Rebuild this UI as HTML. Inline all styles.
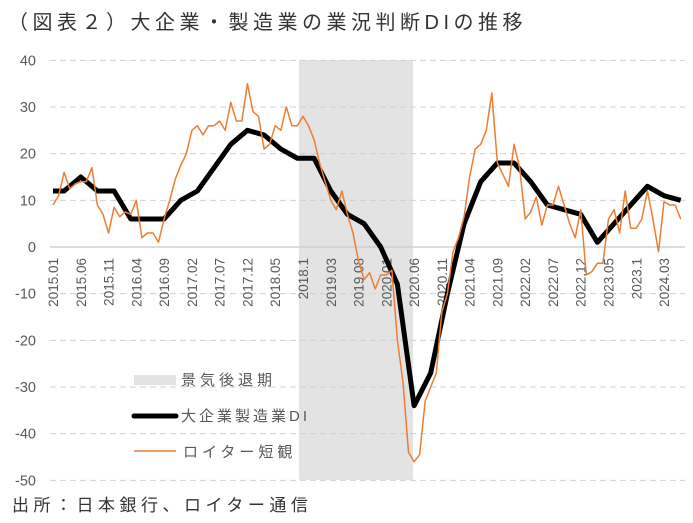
<!DOCTYPE html>
<html><head><meta charset="utf-8">
<style>
html,body{margin:0;padding:0;background:#fff;}
body{width:693px;height:518px;overflow:hidden;font-family:"Liberation Sans","Noto Sans CJK JP",sans-serif;}
</style></head>
<body>
<svg id="c" width="693" height="518" xmlns="http://www.w3.org/2000/svg" font-family="Liberation Sans, Noto Sans CJK JP, sans-serif">
<text x="8" y="29" font-size="20" fill="#333" letter-spacing="4.5">（図表２）大企業・製造業の業況判断DIの推移</text>
<rect x="299" y="60" width="114" height="420" fill="#e3e3e3"/>
<g id="grid"></g>
<g id="ylab" font-size="14.5" fill="#595959" text-anchor="end"></g>
<g id="xlab" font-size="13.5" fill="#595959"></g>
<polyline id="bl" fill="none" stroke="#000" stroke-width="5" stroke-linejoin="round"/>
<polyline id="or" fill="none" stroke="#ed7d31" stroke-width="1.5" stroke-linejoin="round"/>
<rect x="134" y="375" width="42" height="10" fill="#e3e3e3"/>
<text x="181" y="385" font-size="15" fill="#595959" letter-spacing="4">景気後退期</text>
<line x1="134" y1="416" x2="176" y2="416" stroke="#000" stroke-width="5" stroke-linecap="round"/>
<text x="181" y="421" font-size="15" fill="#595959" letter-spacing="3">大企業製造業DI</text>
<line x1="134" y1="451" x2="176" y2="451" stroke="#ed7d31" stroke-width="1.5"/>
<text x="183" y="457" font-size="15" fill="#595959" letter-spacing="4">ロイター短観</text>
<text x="12" y="511" font-size="17" fill="#333" letter-spacing="4.5">出所：日本銀行、ロイター通信</text>
</svg>
<script>
var NS="http://www.w3.org/2000/svg";
function Y(v){return 247-v*4.667;}
function X(i){return 53+i*5.555;}
var g=document.getElementById('grid'),yl=document.getElementById('ylab'),xl=document.getElementById('xlab');
for(var v=40;v>=-50;v-=10){
 var l=document.createElementNS(NS,'line');
 l.setAttribute('x1',50);l.setAttribute('x2',685);l.setAttribute('y1',Y(v));l.setAttribute('y2',Y(v));
 if(v==0){l.setAttribute('stroke','#d0d0d0');l.setAttribute('stroke-width','1.5');}
 else{l.setAttribute('stroke','#d0d0d0');l.setAttribute('stroke-dasharray','6,4');}
 g.appendChild(l);
 var t=document.createElementNS(NS,'text');t.setAttribute('x',36);t.setAttribute('y',Y(v)+5);t.textContent=v;yl.appendChild(t);
}
var labs=["2015.01","2015.06","2015.11","2016.04","2016.09","2017.02","2017.07","2017.12","2018.05","2018.1","2019.03","2019.08","2020.01","2020.06","2020.11","2021.04","2021.09","2022.02","2022.07","2022.12","2023.05","2023.1","2024.03"];
for(var k=0;k<labs.length;k++){
 var x=X(k*5)+5;var t=document.createElementNS(NS,'text');
 t.setAttribute('transform','translate('+x+',258) rotate(-90)');t.setAttribute('text-anchor','end');t.textContent=labs[k];xl.appendChild(t);
}
var anc=[[0,12],[2,12],[5,15],[8,12],[11,12],[14,6],[17,6],[20,6],[23,10],[26,12],[29,17],[32,22],[35,25],[38,24],[41,21],[44,19],[47,19],[50,12],[53,7],[56,5],[59,0],[62,-8],[65,-34],[68,-27],[71,-10],[74,5],[77,14],[80,18],[83,18],[86,14],[89,9],[92,8],[95,7],[98,1],[101,5],[104,9],[107,13],[110,11],[113,10]];
var p=[];for(var k=0;k<anc.length;k++)p.push(X(anc[k][0]).toFixed(1)+','+Y(anc[k][1]).toFixed(1));
document.getElementById('bl').setAttribute('points',p.join(' '));
var o=[9,11,16,12.5,13.5,14,14,17,9,7,3,8.5,6.5,7.5,7,10,2,3,3,1,6,10,14.5,17.5,20,25,26,24,26,26,27,25,31,27,27,35,29,28,21,22,26,25,30,26,26,
28,26,23,18,14,10,8,12,7,3,-3,-7,-5.5,-9,-6,-6,-5,-20,-29,-44,-46,-44.5,-33,-30,-27,-14,-10,-1,2,6.5,15,21,22,25,33,18,15.5,13,22,17,6,7.5,10.7,4.7,9,9,13,9,5,2,8,-6,-5.3,-3.5,-3.5,6,8,3,12,4,4,6,12,6,-1,9.7,9,9,6];
var q=[];for(var i=0;i<o.length;i++)q.push(X(i).toFixed(1)+','+Y(o[i]).toFixed(1));
document.getElementById('or').setAttribute('points',q.join(' '));
</script>
</body></html>
